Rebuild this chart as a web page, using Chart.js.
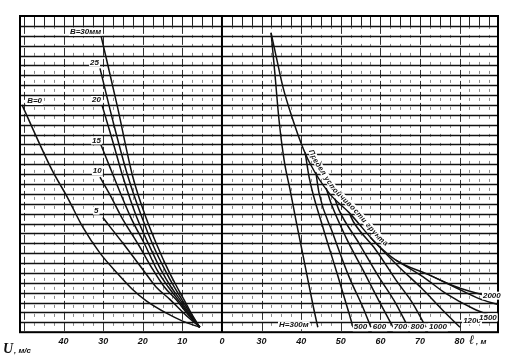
<!DOCTYPE html>
<html>
<head>
<meta charset="utf-8">
<script src="https://cdn.jsdelivr.net/npm/chart.js@4.4.1/dist/chart.umd.min.js"></script>
<style>
  html, body { margin: 0; padding: 0; background: #fff; }
  #wrap { width: 506px; height: 364px; }
</style>
</head>
<body>
<div id="wrap"><canvas id="chart" width="506" height="364"></canvas></div>
<script>
// ── Data ─────────────────────────────────────────────────────────────────────
// Left half: U (m/s) against grid rows, one curve per B (mm).
// Right half: ℓ (m) against the same rows, one curve per H (m) + soil limit.
const L_ORIGIN = 20;          // ℓ value sitting on the dividing line
const ROWS     = 32;          // horizontal grid rows

const U_TICKS = [40, 30, 20, 10, 0];
const L_TICKS = [30, 40, 50, 60, 70, 80];

const B0_U  = [50.5, 42.9, 39.1, 35.1, 30.8, 26.5, 22.5, 19.2, 13.9, 9.8, 5.6];
const B0_Y  = [23.0, 16.4, 13.7, 10.6, 8.0, 6.0, 4.3, 3.2, 1.9, 1.1, 0.5];
const B5_U  = [30.1, 25.0, 19.9, 16.7, 13.1, 9.3, 5.6];
const B5_Y  = [11.6, 9.0, 6.3, 4.6, 3.3, 1.8, 0.5];
const B10_U = [30.8, 28.0, 25.3, 21.0, 17.4, 14.6, 11.6, 8.6, 5.6];
const B10_Y = [15.7, 13.7, 11.6, 8.8, 6.3, 4.6, 3.3, 1.8, 0.5];
const B15_U = [30.8, 29.0, 27.3, 23.0, 19.4, 16.4, 13.6, 11.1, 8.3, 5.6];
const B15_Y = [19.2, 17.4, 15.7, 11.6, 8.8, 6.3, 4.6, 3.3, 1.8, 0.5];
const B20_U = [30.3, 27.5, 25.0, 21.5, 18.4, 15.4, 12.9, 10.6, 8.1, 5.6];
const B20_Y = [23.0, 19.2, 15.7, 11.6, 8.8, 6.3, 4.6, 3.3, 1.8, 0.5];
const B25_U = [30.8, 27.3, 23.7, 20.2, 17.4, 14.4, 12.1, 10.1, 7.8, 5.6];
const B25_Y = [26.7, 21.0, 15.7, 11.6, 8.8, 6.3, 4.6, 3.3, 1.8, 0.5];
const B30_U = [30.6, 26.5, 22.5, 19.2, 16.4, 13.6, 11.4, 9.6, 7.6, 5.6];
const B30_Y = [30.1, 23.0, 15.7, 11.6, 8.8, 6.3, 4.6, 3.3, 1.8, 0.5];

const LIMIT_L = [32.4, 33.9, 35.4, 37.9, 40.2, 42.2, 47.0, 52.1, 58.9, 63.9, 72.3, 79.1, 85.9, 89.7];
const LIMIT_Y = [30.3, 27.5, 24.8, 21.5, 18.9, 17.1, 14.1, 12.1, 9.0, 7.3, 5.8, 4.6, 3.8, 3.5];
const H300_L  = [32.4, 33.4, 34.4, 35.7, 37.2, 38.7, 40.2, 41.7, 43.0, 44.2];
const H300_Y  = [30.3, 26.0, 21.5, 17.4, 14.4, 11.3, 8.3, 5.3, 2.7, 0.5];
const H500_L  = [41.0, 42.0, 45.5, 48.8, 52.1, 53.1];
const H500_Y  = [18.2, 15.7, 10.6, 6.3, 1.9, 0.5];
const H600_L  = [43.7, 44.5, 48.0, 52.1, 55.6, 57.6];
const H600_Y  = [16.2, 14.1, 10.0, 5.6, 2.5, 0.5];
const H700_L  = [46.3, 47.5, 51.3, 55.6, 59.6, 63.2];
const H700_Y  = [14.6, 13.1, 9.6, 6.3, 3.2, 0.5];
const H800_L  = [48.5, 49.5, 54.6, 59.6, 63.9, 67.0];
const H800_Y  = [13.5, 12.4, 9.0, 5.6, 2.9, 0.5];
const H1000_L = [52.3, 53.3, 58.9, 63.9, 68.2, 71.5];
const H1000_Y = [11.9, 11.1, 8.3, 5.3, 2.9, 0.5];
const H1200_L = [57.4, 64.7, 70.8, 75.8, 80.1];
const H1200_Y = [9.6, 6.6, 4.3, 2.2, 0.5];
const H1500_L = [63.9, 70.8, 76.6, 83.4, 89.7];
const H1500_Y = [7.3, 5.6, 3.9, 2.4, 1.4];
const H2000_L = [72.3, 79.1, 84.9, 89.7];
const H2000_Y = [5.8, 4.5, 3.4, 2.8];

// curve labels (anchor = left end of the text)
const B_LABELS  = ["В=0", "5", "10", "15", "20", "25", "В=30мм"];
const B_LABEL_U = [49.2, 32.3, 32.6, 32.8, 32.8, 33.3, 38.4];
const B_LABEL_Y = [23.4, 12.3, 16.3, 19.4, 23.5, 27.3, 30.4];
const H_LABELS  = ["Н=300м", "500", "600", "700", "800", "1000", "1200", "1500", "2000"];
const H_LABEL_L = [34.4, 53.3, 58.1, 63.4, 67.7, 72.3, 80.9, 84.9, 85.9];
const H_LABEL_Y = [0.7, 0.5, 0.5, 0.5, 0.5, 0.5, 1.2, 1.5, 3.7];
const LIMIT_TEXT    = "Предел устойчивости грунта";
const LIMIT_TEXT_L0 = 41.0;   // ℓ where the caption starts along the limit curve

// ── helpers ──────────────────────────────────────────────────────────────────
const leftPts  = (u, v) => u.map((val, i) => ({ x: -val, y: v[i] }));
const rightPts = (l, v) => l.map((val, i) => ({ x: val - L_ORIGIN, y: v[i] }));

const curve = (label, data) => ({
  label, data,
  borderColor: "#111",
  borderWidth: 1.5,
  pointRadius: 0,
  fill: false,
  cubicInterpolationMode: "monotone",
});

const datasets = [
  curve("B0",  leftPts(B0_U,  B0_Y)),
  curve("B5",  leftPts(B5_U,  B5_Y)),
  curve("B10", leftPts(B10_U, B10_Y)),
  curve("B15", leftPts(B15_U, B15_Y)),
  curve("B20", leftPts(B20_U, B20_Y)),
  curve("B25", leftPts(B25_U, B25_Y)),
  curve("B30", leftPts(B30_U, B30_Y)),
  curve("limit", rightPts(LIMIT_L, LIMIT_Y)),
  curve("H300",  rightPts(H300_L,  H300_Y)),
  curve("H500",  rightPts(H500_L,  H500_Y)),
  curve("H600",  rightPts(H600_L,  H600_Y)),
  curve("H700",  rightPts(H700_L,  H700_Y)),
  curve("H800",  rightPts(H800_L,  H800_Y)),
  curve("H1000", rightPts(H1000_L, H1000_Y)),
  curve("H1200", rightPts(H1200_L, H1200_Y)),
  curve("H1500", rightPts(H1500_L, H1500_Y)),
  curve("H2000", rightPts(H2000_L, H2000_Y)),
];
const LIMIT_INDEX = 7;

const LABEL_FONT = "italic bold 8px 'Liberation Sans', Arial, sans-serif";

// ── paper grid, frame and divider ────────────────────────────────────────────
const gridPlugin = {
  id: "paperGrid",
  beforeDraw(chart) {
    const { ctx } = chart;
    ctx.save();
    ctx.fillStyle = "#fff";
    ctx.fillRect(0, 0, chart.width, chart.height);
    ctx.restore();
  },
  beforeDatasetsDraw(chart) {
    const { ctx, chartArea: a, scales: { x, y } } = chart;
    ctx.save();

    // vertical lines every 2.5 units, broken like the scan
    for (let v = -50; v < x.max; v += 2.5) {
      if (v === 0) continue;
      const px = Math.round(x.getPixelForValue(v)) + 0.5;
      const major = v % 10 === 0;
      ctx.strokeStyle = major ? "#333" : "#8a8a8a";
      ctx.lineWidth = 1;
      ctx.setLineDash(major ? [8, 3] : [3, 6]);
      ctx.beginPath();
      ctx.moveTo(px, y.getPixelForValue(ROWS - 1));
      ctx.lineTo(px, a.bottom);
      ctx.stroke();
      // top row: solid ticks
      ctx.setLineDash([]);
      ctx.strokeStyle = "#222";
      ctx.beginPath();
      ctx.moveTo(px, a.top);
      ctx.lineTo(px, y.getPixelForValue(ROWS - 1));
      ctx.stroke();
    }
    ctx.setLineDash([]);

    // horizontal rows
    ctx.strokeStyle = "#111";
    ctx.lineWidth = 1.7;
    for (let r = 1; r < ROWS; r++) {
      const py = Math.round(y.getPixelForValue(r)) + 0.5;
      ctx.beginPath();
      ctx.moveTo(a.left, py);
      ctx.lineTo(a.right, py);
      ctx.stroke();
    }

    // frame + divider
    ctx.strokeStyle = "#000";
    ctx.lineWidth = 2;
    ctx.strokeRect(a.left, a.top, a.right - a.left, a.bottom - a.top);
    const d = x.getPixelForValue(0);
    ctx.beginPath();
    ctx.moveTo(d, a.top);
    ctx.lineTo(d, a.bottom);
    ctx.stroke();
    ctx.restore();
  },
};

// ── curve labels, limit caption and axis names ───────────────────────────────
function drawAlong(ctx, pts, text, startX, offset) {
  const segs = [];
  let total = 0;
  for (let i = 1; i < pts.length; i++) {
    const dx = pts[i].x - pts[i - 1].x, dy = pts[i].y - pts[i - 1].y;
    const len = Math.hypot(dx, dy);
    segs.push({ p: pts[i - 1], dx, dy, len, start: total });
    total += len;
  }
  const at = (dist) => {
    let s = segs[segs.length - 1];
    for (const g of segs) { if (dist <= g.start + g.len) { s = g; break; } }
    const t = (dist - s.start) / s.len;
    return { x: s.p.x + s.dx * t, y: s.p.y + s.dy * t, a: Math.atan2(s.dy, s.dx) };
  };
  // distance where the caption begins
  let d = 0;
  for (const g of segs) {
    if (g.p.x + g.dx >= startX) { d = g.start + g.len * Math.max(0, (startX - g.p.x) / g.dx); break; }
  }
  for (const ch of text) {
    const w = ctx.measureText(ch).width;
    const p = at(d + w / 2);
    ctx.save();
    ctx.translate(p.x + Math.sin(p.a) * offset, p.y - Math.cos(p.a) * offset);
    ctx.rotate(p.a);
    ctx.fillStyle = "#fff";
    ctx.fillRect(-w / 2 - 0.5, -6, w + 1, 7);
    ctx.fillStyle = "#111";
    ctx.fillText(ch, -w / 2, 0);
    ctx.restore();
    d += w + 0.3;
  }
}

const labelPlugin = {
  id: "labels",
  afterDatasetsDraw(chart) {
    const { ctx, chartArea: a, scales: { x, y } } = chart;
    ctx.save();
    ctx.fillStyle = "#111";
    ctx.font = LABEL_FONT;
    ctx.textAlign = "left";
    ctx.textBaseline = "middle";

    B_LABELS.forEach((t, i) => {
      const px = x.getPixelForValue(-B_LABEL_U[i]);
      const py = y.getPixelForValue(B_LABEL_Y[i]);
      ctx.fillStyle = "#fff";
      ctx.fillRect(px - 1, py - 4, ctx.measureText(t).width + 2, 8);
      ctx.fillStyle = "#111";
      ctx.fillText(t, px, py);
    });
    H_LABELS.forEach((t, i) => {
      const px = x.getPixelForValue(H_LABEL_L[i] - L_ORIGIN);
      const py = y.getPixelForValue(H_LABEL_Y[i]);
      ctx.fillStyle = "#fff";
      ctx.fillRect(px - 1, py - 4, ctx.measureText(t).width + 2, 8);
      ctx.fillStyle = "#111";
      ctx.fillText(t, px, py);
    });

    // caption along the soil stability limit
    const pts = chart.getDatasetMeta(LIMIT_INDEX).data.map((p) => ({ x: p.x, y: p.y }));
    ctx.font = "italic bold 7.5px 'Liberation Sans', Arial, sans-serif";
    ctx.textBaseline = "alphabetic";
    drawAlong(ctx, pts, LIMIT_TEXT, x.getPixelForValue(LIMIT_TEXT_L0 - L_ORIGIN), 4);

    // axis names
    ctx.textBaseline = "alphabetic";
    ctx.font = "italic bold 14px 'Liberation Serif', serif";
    ctx.fillText("U", 3, a.bottom + 21);
    ctx.font = "italic bold 8px 'Liberation Sans', Arial, sans-serif";
    ctx.fillText(", м/с", 14, a.bottom + 21);
    ctx.font = "italic bold 13px 'Liberation Serif', serif";
    ctx.fillText("ℓ", a.right - 29, a.bottom + 12);
    ctx.font = "italic bold 8px 'Liberation Sans', Arial, sans-serif";
    ctx.fillText(", м", a.right - 22, a.bottom + 12);
    ctx.restore();
  },
};

new Chart(document.getElementById("chart"), {
  type: "line",
  data: { datasets },
  options: {
    responsive: false,
    animation: false,
    layout: { padding: { left: 20, right: 8, top: 16, bottom: 13 } },
    plugins: { legend: { display: false }, tooltip: { enabled: false } },
    scales: {
      x: {
        type: "linear",
        min: -51,
        max: 69.7,
        grid: { display: false, drawTicks: false },
        border: { display: false },
        afterBuildTicks: (scale) => {
          scale.ticks = [
            ...U_TICKS.map((u) => ({ value: -u })),
            ...L_TICKS.map((l) => ({ value: l - L_ORIGIN })),
          ];
        },
        ticks: {
          padding: 4,
          maxRotation: 0,
          autoSkip: false,
          color: "#111",
          font: { family: "'Liberation Sans', Arial, sans-serif", size: 9, style: "italic", weight: "bold" },
          callback: (v) => (v <= 0 ? String(Math.abs(v)) : String(v + L_ORIGIN)),
        },
      },
      y: { type: "linear", min: 0, max: ROWS, display: false },
    },
  },
  plugins: [gridPlugin, labelPlugin],
});
</script>
</body>
</html>
